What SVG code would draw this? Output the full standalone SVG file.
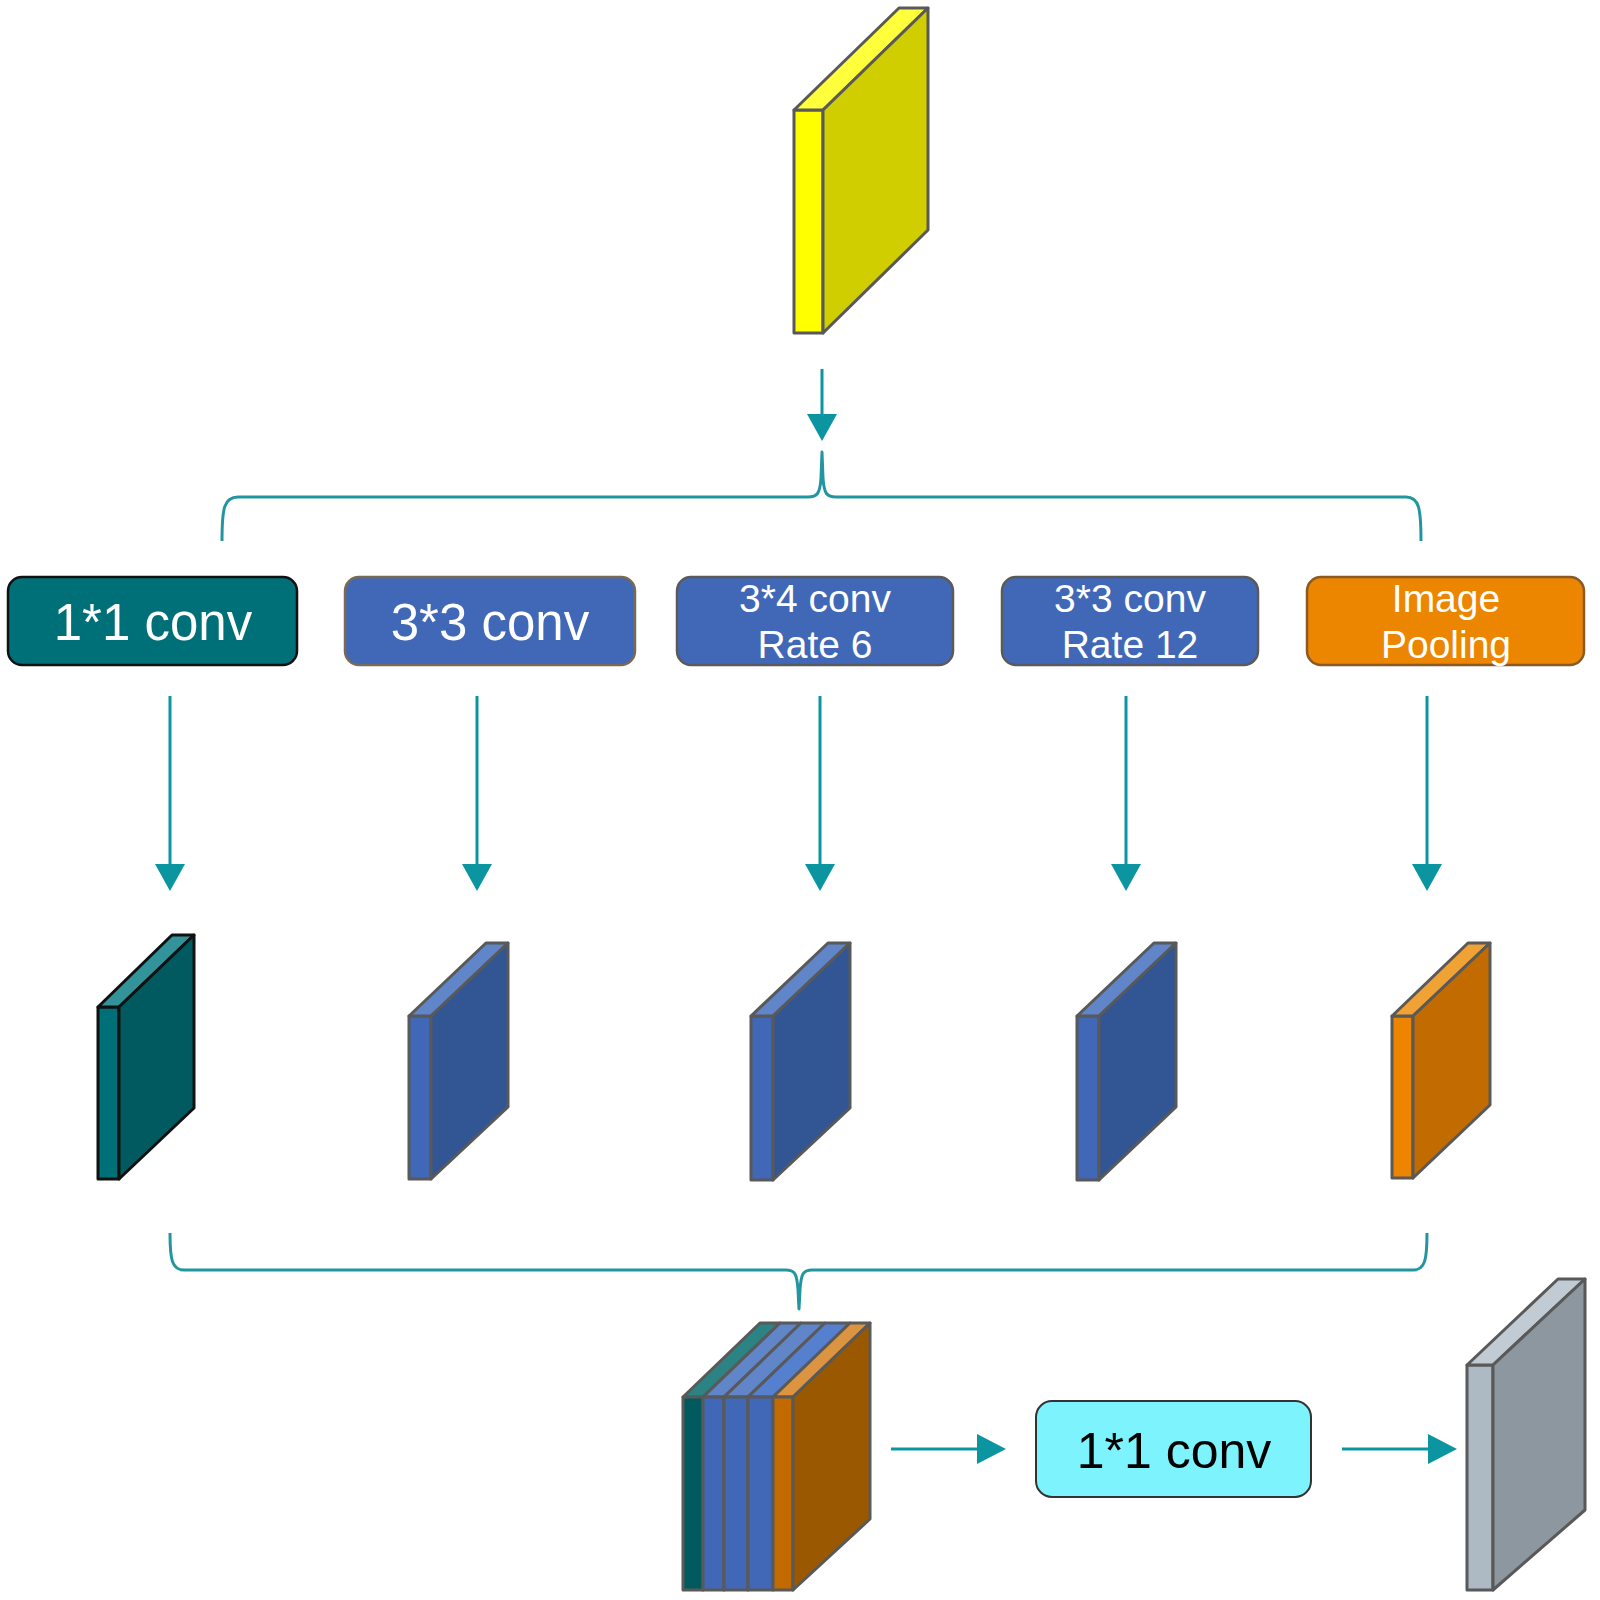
<svg xmlns="http://www.w3.org/2000/svg" width="1600" height="1600" viewBox="0 0 1600 1600">
<style>
.cn{stroke:#0B95A0;stroke-width:3;fill:none}
.ah{fill:#0B95A0;stroke:none}
.br{stroke:#2296A0;stroke-width:3;fill:none;stroke-linejoin:round}
.cb{stroke:#595959;stroke-width:3;stroke-linejoin:round}
.cbk{stroke:#111;stroke-width:3;stroke-linejoin:round}
.t{font-family:"Liberation Sans",Arial,sans-serif;fill:#fff;text-anchor:middle}
.big{font-size:51px}
.sm{font-size:39px}
</style>
<rect width="1600" height="1600" fill="#fff"/>

<g id="input">
<rect class="cb" x="794" y="110" width="29" height="223" fill="#FFFF00"/>
<polygon class="cb" points="794,110 899,8 928,8 823,110" fill="#FFFF3C"/>
<polygon class="cb" points="823,110 928,8 928,230 823,333" fill="#D0CE00"/>
</g>

<g id="connectors">
<line class="cn" x1="822" y1="369" x2="822" y2="416"/>
<polygon class="ah" points="807,414 837,414 822,441"/>
<path class="br" d="M222,541 C222,508 224,497 238,497 L808,497 C817,497 820,494 821,478 L822,452 L823,478 C824,494 827,497 836,497 L1406,497 C1419,497 1421,508 1421,541"/>
<line class="cn" x1="170" y1="696" x2="170" y2="866"/>
<polygon class="ah" points="155,864 185,864 170,891"/>
<line class="cn" x1="477" y1="696" x2="477" y2="866"/>
<polygon class="ah" points="462,864 492,864 477,891"/>
<line class="cn" x1="820" y1="696" x2="820" y2="866"/>
<polygon class="ah" points="805,864 835,864 820,891"/>
<line class="cn" x1="1126" y1="696" x2="1126" y2="866"/>
<polygon class="ah" points="1111,864 1141,864 1126,891"/>
<line class="cn" x1="1427" y1="696" x2="1427" y2="866"/>
<polygon class="ah" points="1412,864 1442,864 1427,891"/>
<path class="br" d="M170,1233 C170,1260 172,1270 184,1270 L786,1270 C795,1270 797,1274 798,1290 L799,1309 L800,1290 C801,1274 803,1270 812,1270 L1413,1270 C1425,1270 1427,1260 1427,1233"/>
<line class="cn" x1="891" y1="1449" x2="980" y2="1449"/>
<polygon class="ah" points="977,1434 977,1464 1006,1449"/>
<line class="cn" x1="1342" y1="1449" x2="1431" y2="1449"/>
<polygon class="ah" points="1428,1434 1428,1464 1457,1449"/>
</g>

<g id="box1">
<rect x="8" y="577" width="289" height="88" rx="14" fill="#007078" stroke="#111" stroke-width="2.5"/>
<text class="t big" x="153" y="640">1*1 conv</text>
</g>
<g id="box2">
<rect x="345" y="577" width="290" height="88" rx="14" fill="#4068B7" stroke="#7A6A55" stroke-width="2.5"/>
<text class="t big" x="490" y="640">3*3 conv</text>
</g>
<g id="box3">
<rect x="677" y="577" width="276" height="88" rx="14" fill="#4068B7" stroke="#5A5A5A" stroke-width="2.5"/>
<text class="t sm" x="815" y="612">3*4 conv</text>
<text class="t sm" x="815" y="658">Rate 6</text>
</g>
<g id="box4">
<rect x="1002" y="577" width="256" height="88" rx="14" fill="#4068B7" stroke="#5A5A5A" stroke-width="2.5"/>
<text class="t sm" x="1130" y="612">3*3 conv</text>
<text class="t sm" x="1130" y="658">Rate 12</text>
</g>
<g id="box5">
<rect x="1307" y="577" width="277" height="88" rx="14" fill="#EC8500" stroke="#8A5A25" stroke-width="2.5"/>
<text class="t sm" x="1446" y="612">Image</text>
<text class="t sm" x="1446" y="658">Pooling</text>
</g>

<g id="feat1">
<rect class="cbk" x="98" y="1007" width="21" height="172" fill="#007078"/>
<polygon class="cbk" points="98,1007 172,935 194,935 119,1007" fill="#32939A"/>
<polygon class="cbk" points="119,1007 194,935 194,1108 119,1179" fill="#005A60"/>
</g>
<g id="feat2">
<rect class="cb" x="409" y="1016" width="22" height="163" fill="#4068B7"/>
<polygon class="cb" points="409,1016 486,943 508,943 431,1016" fill="#6085C8"/>
<polygon class="cb" points="431,1016 508,943 508,1107 431,1179" fill="#325594"/>
</g>
<g id="feat3">
<rect class="cb" x="751" y="1016" width="22" height="164" fill="#4068B7"/>
<polygon class="cb" points="751,1016 828,943 850,943 773,1016" fill="#6085C8"/>
<polygon class="cb" points="773,1016 850,943 850,1108 773,1180" fill="#325594"/>
</g>
<g id="feat4">
<rect class="cb" x="1077" y="1016" width="22" height="164" fill="#4068B7"/>
<polygon class="cb" points="1077,1016 1154,943 1176,943 1099,1016" fill="#6085C8"/>
<polygon class="cb" points="1099,1016 1176,943 1176,1107 1099,1180" fill="#325594"/>
</g>
<g id="feat5">
<rect class="cb" x="1392" y="1016" width="21" height="162" fill="#EE8500"/>
<polygon class="cb" points="1392,1016 1468,943 1490,943 1413,1016" fill="#F0A235"/>
<polygon class="cb" points="1413,1016 1490,943 1490,1105 1413,1178" fill="#C16B00"/>
</g>

<g id="concat">
<polygon class="cb" points="683,1397 760,1323 780,1323 703,1397" fill="#2C8383"/>
<polygon class="cb" points="703,1397 780,1323 801,1323 724,1397" fill="#6085C8"/>
<polygon class="cb" points="724,1397 801,1323 825,1323 748,1397" fill="#6085C8"/>
<polygon class="cb" points="748,1397 825,1323 850,1323 773,1397" fill="#5580D0"/>
<polygon class="cb" points="773,1397 850,1323 870,1323 793,1397" fill="#DC9440"/>
<rect class="cb" x="683" y="1397" width="20" height="193" fill="#005A5E"/>
<rect class="cb" x="703" y="1397" width="21" height="193" fill="#4068B7"/>
<rect class="cb" x="724" y="1397" width="24" height="193" fill="#4068B7"/>
<rect class="cb" x="748" y="1397" width="25" height="193" fill="#4068B7"/>
<rect class="cb" x="773" y="1397" width="20" height="193" fill="#C26A00"/>
<polygon class="cb" points="793,1397 870,1323 870,1519 793,1590" fill="#9A5800"/>
</g>

<g id="conv_out">
<rect x="1036" y="1401" width="275" height="96" rx="16" fill="#7DF3FD" stroke="#333" stroke-width="2"/>
<text x="1174" y="1468" font-family="'Liberation Sans',Arial,sans-serif" font-size="50" fill="#000" text-anchor="middle">1*1 conv</text>
</g>

<g id="output">
<rect class="cb" x="1467" y="1365" width="26" height="225" fill="#ADB9C3"/>
<polygon class="cb" points="1467,1365 1558,1279 1585,1279 1493,1365" fill="#C1CBD3"/>
<polygon class="cb" points="1493,1365 1585,1279 1585,1510 1493,1590" fill="#8C979F"/>
</g>
</svg>
